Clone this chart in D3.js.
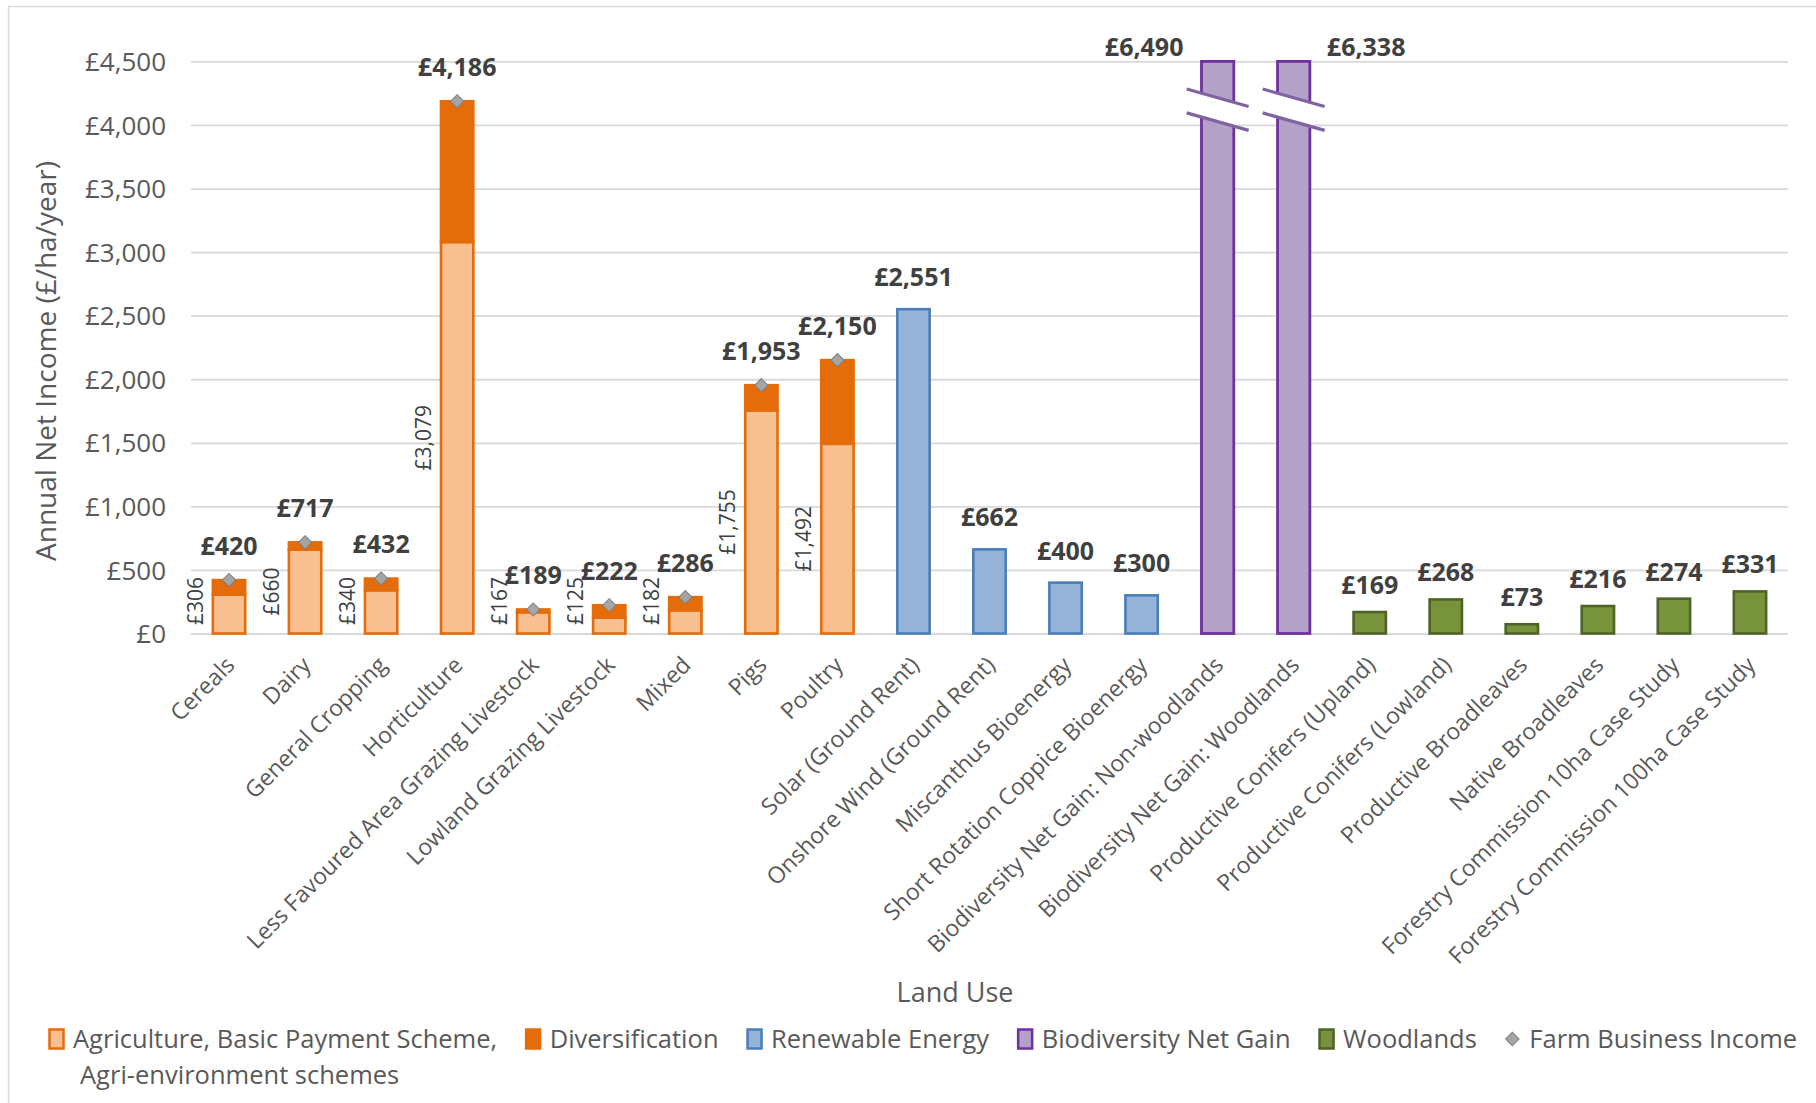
<!DOCTYPE html>
<html>
<head>
<meta charset="utf-8">
<script src="https://cdn.jsdelivr.net/npm/d3@7"></script>
<style>
  body { margin: 0; background: #ffffff; }
  svg text { font-family: "Open Sans", "Noto Sans", sans-serif; }
</style>
</head>
<body>
<svg id="chart" width="1816" height="1103"></svg>
<script>
// ---- Data: annual net income by land use (£/ha/year) ----
const agriCategories = ["Cereals", "Dairy", "General Cropping", "Horticulture",
  "Less Favoured Area Grazing Livestock", "Lowland Grazing Livestock", "Mixed", "Pigs", "Poultry"];
const agriBase = [306, 660, 340, 3079, 167, 125, 182, 1755, 1492];          // agriculture, BPS, agri-environment
const farmBusinessIncome = [420, 717, 432, 4186, 189, 222, 286, 1953, 2150]; // total incl. diversification

const renewableCategories = ["Solar (Ground Rent)", "Onshore Wind (Ground Rent)",
  "Miscanthus Bioenergy", "Short Rotation Coppice Bioenergy"];
const renewableValues = [2551, 662, 400, 300];

const bngCategories = ["Biodiversity Net Gain: Non-woodlands", "Biodiversity Net Gain: Woodlands"];
const bngValues = [6490, 6338];

const woodlandCategories = ["Productive Conifers (Upland)", "Productive Conifers (Lowland)",
  "Productive Broadleaves", "Native Broadleaves",
  "Forestry Commission 10ha Case Study", "Forestry Commission 100ha Case Study"];
const woodlandValues = [169, 268, 73, 216, 274, 331];

const yTicks = [0, 500, 1000, 1500, 2000, 2500, 3000, 3500, 4000, 4500];

const legendLabels = [
  ["Agriculture, Basic Payment Scheme,", "Agri-environment schemes"],
  ["Diversification"], ["Renewable Energy"], ["Biodiversity Net Gain"], ["Woodlands"], ["Farm Business Income"]
];

// ---- Styling ----
const colours = {
  agriFill: "#f8c091", agriStroke: "#e46c0a",
  divFill: "#e46c0a", divStroke: "#e46c0a",
  renewFill: "#95b3d7", renewStroke: "#4a7ebb",
  bngFill: "#b3a2c7", bngStroke: "#7030a0", breakLine: "#8064a2",
  woodFill: "#77933c", woodStroke: "#4f6228",
  fbiFill: "#a5a5a5", fbiStroke: "#7f7f7f",
  grid: "#d9d9d9", axisText: "#595959", valueText: "#404040"
};

const svg = d3.select("#chart");
const plot = { left: 191, right: 1788, top: 61.4, bottom: 633.5 };
const fmt = v => "£" + d3.format(",")(v);

// chart area border
svg.append("rect").attr("x", 8.5).attr("y", 6.5).attr("width", 1830).attr("height", 1120)
  .attr("fill", "none").attr("stroke", colours.grid).attr("stroke-width", 1.5);

const categories = [...agriCategories, ...renewableCategories, ...bngCategories, ...woodlandCategories];

const x = d3.scaleBand().domain(categories).range([plot.left, plot.right])
  .paddingInner(0.575).paddingOuter(0.2875);
const y = d3.scaleLinear().domain([0, 4500]).range([plot.bottom, plot.top]);
const bw = x.bandwidth();
const cx = c => x(c) + bw / 2;

// ---- Y axis with gridlines ----
const yAxis = svg.append("g").attr("transform", `translate(${plot.left},0)`)
  .call(d3.axisLeft(y).tickValues(yTicks).tickFormat(fmt)
    .tickSize(-(plot.right - plot.left)).tickPadding(25));
yAxis.select(".domain").remove();
yAxis.selectAll(".tick line").attr("stroke", colours.grid).attr("stroke-width", 1.8);
yAxis.selectAll(".tick text").attr("fill", colours.axisText)
  .style("font-size", "26px").attr("dy", "0.35em");

// ---- X axis category labels ----
const xAxis = svg.append("g").attr("transform", `translate(0,${plot.bottom})`)
  .call(d3.axisBottom(x).tickSize(0).tickPadding(0));
xAxis.select(".domain").remove();
xAxis.selectAll(".tick text")
  .attr("x", 0).attr("y", 0).attr("dy", null)
  .attr("text-anchor", "end")
  .attr("transform", "translate(7,33) rotate(-45)")
  .attr("fill", colours.axisText)
  .style("font-size", "23px");

const bars = svg.append("g");

// ---- Agriculture stacked bars ----
const agri = agriCategories.map((c, i) => ({ c, base: agriBase[i], total: farmBusinessIncome[i] }));
bars.selectAll(".agri-base").data(agri).join("rect")
  .attr("x", d => x(d.c)).attr("width", bw)
  .attr("y", d => y(d.base)).attr("height", d => y(0) - y(d.base))
  .attr("fill", colours.agriFill).attr("stroke", colours.agriStroke).attr("stroke-width", 2.6);
bars.selectAll(".agri-div").data(agri).join("rect")
  .attr("x", d => x(d.c)).attr("width", bw)
  .attr("y", d => y(d.total)).attr("height", d => y(d.base) - y(d.total))
  .attr("fill", colours.divFill).attr("stroke", colours.divStroke).attr("stroke-width", 2.6);

// ---- Renewable energy ----
const renew = renewableCategories.map((c, i) => ({ c, v: renewableValues[i] }));
bars.selectAll(".renew").data(renew).join("rect")
  .attr("x", d => x(d.c)).attr("width", bw)
  .attr("y", d => y(d.v)).attr("height", d => y(0) - y(d.v))
  .attr("fill", colours.renewFill).attr("stroke", colours.renewStroke).attr("stroke-width", 2.6);

// ---- Biodiversity net gain (values exceed the axis; bars are broken) ----
const bng = bngCategories.map((c, i) => ({ c, v: bngValues[i], side: i === 0 ? -1 : 1 }));
const yMax = y.domain()[1];
bars.selectAll(".bng").data(bng).join("rect")
  .attr("x", d => x(d.c)).attr("width", bw)
  .attr("y", d => y(Math.min(d.v, yMax))).attr("height", d => y(0) - y(Math.min(d.v, yMax)))
  .attr("fill", colours.bngFill).attr("stroke", colours.bngStroke).attr("stroke-width", 2.8);

// axis-break marks drawn across each clipped bar
const breakUpper = 4214, breakLower = 4026, breakSlant = 8.75, breakHalf = 31;
const breaks = svg.append("g");
bng.forEach(d => {
  const c0 = cx(d.c);
  const yu = y(breakUpper), yl = y(breakLower);
  const xl = x(d.c) - 3, xr = x(d.c) + bw + 3;
  const t = px => (px - c0) / breakHalf * breakSlant;
  breaks.append("path")
    .attr("d", `M${xl},${yu + t(xl)} L${xr},${yu + t(xr)} L${xr},${yl + t(xr)} L${xl},${yl + t(xl)} Z`)
    .attr("fill", "#ffffff");
  [yu, yl].forEach(yy => {
    breaks.append("line")
      .attr("x1", c0 - breakHalf).attr("y1", yy - breakSlant)
      .attr("x2", c0 + breakHalf).attr("y2", yy + breakSlant)
      .attr("stroke", colours.breakLine).attr("stroke-width", 3.2);
  });
});

// ---- Woodlands ----
const wood = woodlandCategories.map((c, i) => ({ c, v: woodlandValues[i] }));
bars.selectAll(".wood").data(wood).join("rect")
  .attr("x", d => x(d.c)).attr("width", bw)
  .attr("y", d => y(d.v)).attr("height", d => y(0) - y(d.v))
  .attr("fill", colours.woodFill).attr("stroke", colours.woodStroke).attr("stroke-width", 2.6);

// ---- Farm business income markers ----
const diamond = d3.symbol().type(d3.symbolSquare).size(88);
svg.append("g").selectAll("path").data(agri).join("path")
  .attr("d", diamond)
  .attr("transform", d => `translate(${cx(d.c)},${y(d.total)}) rotate(45)`)
  .attr("fill", colours.fbiFill).attr("stroke", colours.fbiStroke).attr("stroke-width", 1);

// ---- Value labels ----
const labels = svg.append("g").attr("fill", colours.valueText)
  .style("font-size", "25px").style("font-weight", "700");
labels.selectAll(".lab-agri").data(agri).join("text")
  .attr("x", d => cx(d.c)).attr("y", d => y(d.total) - 25.5)
  .attr("text-anchor", "middle").text(d => fmt(d.total));
labels.selectAll(".lab-renew").data(renew).join("text")
  .attr("x", d => cx(d.c)).attr("y", d => y(d.v) - 23)
  .attr("text-anchor", "middle").text(d => fmt(d.v));
labels.selectAll(".lab-wood").data(wood).join("text")
  .attr("x", d => cx(d.c)).attr("y", d => y(d.v) - 18)
  .attr("text-anchor", "middle").text(d => fmt(d.v));
labels.selectAll(".lab-bng").data(bng).join("text")
  .attr("x", d => d.side < 0 ? x(d.c) - 18 : x(d.c) + bw + 17)
  .attr("y", y(yMax) - 5)
  .attr("text-anchor", d => d.side < 0 ? "end" : "start")
  .text(d => fmt(d.v));

// base-segment labels, rotated, beside each agriculture bar
const inner = svg.append("g").attr("fill", colours.valueText).style("font-size", "21px");
inner.selectAll("text").data(agri).join("text")
  .attr("text-anchor", "middle")
  .text(d => fmt(d.base))
  .each(function (d) {
    const len = this.getComputedTextLength();
    const yc = Math.min(y(d.base / 2), y(0) - 8.5 - len / 2);
    d3.select(this).attr("transform", `translate(${x(d.c) - 10},${yc}) rotate(-90)`);
  });

// ---- Axis titles ----
svg.append("text")
  .attr("transform", `translate(56,361) rotate(-90)`)
  .attr("text-anchor", "middle").attr("fill", colours.axisText)
  .style("font-size", "28px").text("Annual Net Income (£/ha/year)");
svg.append("text")
  .attr("x", 955).attr("y", 1002)
  .attr("text-anchor", "middle").attr("fill", colours.axisText)
  .style("font-size", "27px").text("Land Use");

// ---- Legend ----
const legendItems = [
  { fill: colours.agriFill, stroke: colours.agriStroke },
  { fill: colours.divFill, stroke: colours.divStroke },
  { fill: colours.renewFill, stroke: colours.renewStroke },
  { fill: colours.bngFill, stroke: colours.bngStroke },
  { fill: colours.woodFill, stroke: colours.woodStroke },
  { marker: true }
].map((s, i) => ({ ...s, lines: legendLabels[i] }));

const legend = svg.append("g").attr("transform", "translate(48,1039)");
let lx = 0;
legendItems.forEach(item => {
  const g = legend.append("g").attr("transform", `translate(${lx},0)`);
  if (item.marker) {
    g.append("path").attr("d", d3.symbol().type(d3.symbolSquare).size(90))
      .attr("transform", "translate(8,0) rotate(45)")
      .attr("fill", colours.fbiFill).attr("stroke", colours.fbiStroke).attr("stroke-width", 1);
  } else {
    g.append("rect").attr("x", 1.5).attr("y", -9.5).attr("width", 14).attr("height", 19)
      .attr("fill", item.fill).attr("stroke", item.stroke).attr("stroke-width", 2.5);
  }
  const t = g.append("text").attr("x", 25).attr("y", 0).attr("fill", colours.axisText)
    .style("font-size", "25.5px");
  item.lines.forEach((line, k) => {
    t.append("tspan").attr("x", k === 0 ? 25 : 32).attr("dy", k === 0 ? "0.36em" : "1.4em").text(line);
  });
  const w = d3.max(t.selectAll("tspan").nodes(), n => n.getComputedTextLength());
  lx += 25 + w + 27.5;
});
</script>
</body>
</html>
